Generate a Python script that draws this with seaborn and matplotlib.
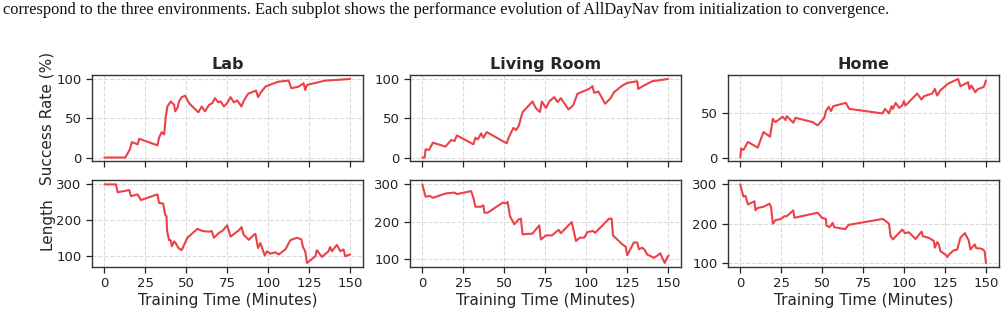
import numpy as np
import pandas as pd
import matplotlib
matplotlib.use("Agg")
import matplotlib.pyplot as plt
import seaborn as sns

# ---------------- data ----------------
lab_sr_t = [0, 12.8, 15.6, 16.8, 20.3, 21.3, 32.4, 33.4, 35, 36.5, 37.5, 38.5, 40.5, 42.6, 43.2, 44.6, 45.6, 47.2,
            49.3, 51.7, 54.7, 57.4, 59.4, 61.4, 63.9, 65.9, 67.5, 69.5, 71, 73, 75, 77, 79.1, 81.1, 83.7, 85.1,
            87.7, 91.2, 92.6, 93.8, 95.2, 98.3, 102.4, 106.4, 112.5, 114.1, 118.6, 121.6, 122.6, 123.7, 129.7,
            134.8, 140.9, 150]
lab_sr_v = [0, 0, 10.5, 19.7, 16.8, 23.9, 15.5, 25.2, 32.4, 29.4, 52.5, 65, 71.4, 67, 58.8, 63, 71.4, 76.9,
            78.6, 69.3, 63, 57.6, 65, 58.8, 67, 69.3, 75.6, 70.2, 71.4, 65, 69.3, 76.9, 70.2, 72.7, 65, 72.3,
            81.1, 84, 85.3, 76.9, 82, 90.3, 93.7, 96.6, 97.9, 88.2, 90.3, 94.5, 86, 92.4, 95.4,
            97.9, 98.7, 100]

lab_len_t = [0, 7.1, 8.1, 15.2, 16.2, 20.3, 22.3, 32.4, 33.4, 35.9, 37.1, 37.9, 38.3, 39.5, 40.5, 41.2, 42.6,
             43.6, 45.2, 47.2, 50.7, 56.8, 59.8, 63.9, 65.5, 66.9, 70, 72, 75, 77, 82.1, 83.7, 85.1, 88.2, 91.2,
             92.2, 93.8, 95.2, 96.7, 97.9, 99.3, 101.4, 104.4, 106.4, 110.5, 113.5, 117.6, 120.3, 121.2, 122.6,
             123.7, 128.8, 129.7, 132.8, 136.8, 137.8, 138.9, 141.9, 144, 146, 147, 150]
lab_len_v = [300, 300, 278, 284, 267, 272, 256, 272, 248, 246, 215, 211, 169, 143, 143, 126, 140,
             134, 121, 115, 150, 175, 169, 167, 169, 150, 164, 169, 185, 153, 171, 180, 158, 144, 158,
             161, 121, 135, 116, 100, 112, 105, 109, 103, 117, 143, 150, 145, 124, 112,
             79, 98, 115, 96, 112, 124, 112, 130, 112, 117, 98, 103]

liv_sr_t = [0, 1.4, 2, 4.1, 6.5, 14.2, 17.6, 19.7, 21.1, 31.2, 32.4, 33.9, 35.9, 37.3, 39.3, 51.5, 52.7, 55.6,
            57.2, 58.8, 61.2, 67.3, 69.3, 71.8, 73, 75.5, 77.5, 80.5, 82.6, 84.6, 89.2, 92.1, 94.7, 101.8,
            103.9, 104.9, 107.5, 111.6, 115, 117, 122.1, 125.1, 131.2, 131.8, 135.2, 140.3, 150]
liv_sr_v = [0, 0, 10.5, 9.7, 18.9, 13.9, 22.3, 21, 28.2, 16.8, 25.2, 23.1, 30.7, 25.2, 32.4, 18.1, 25.2, 37.8,
            34.9, 39.9, 57.6, 71.4, 63, 58, 71.4, 63, 71.4, 76.9, 70.6, 75.6, 61.3, 66.4, 81.1, 87.4,
            90.8, 82.4, 84, 68.5, 75.6, 83.2, 91.6, 95, 97.1, 87.4, 91.6, 97.1, 100]

liv_len_t = [0, 2, 4.5, 6.5, 14.6, 19.7, 21.1, 29.8, 31.2, 32.4, 35.9, 37.3, 37.9, 39.9, 49.1, 51.1, 52.1, 53.5,
             56.2, 58.8, 60.2, 61.2, 67.3, 71.4, 72.4, 75.5, 79.1, 83.2, 84.6, 91.2, 93.8, 96.2, 98.8, 100.8,
             104.3, 105.5, 114, 115.6, 116.4, 119, 122.1, 124.1, 125.1, 129.1, 131.2, 132.2, 134.2, 135.8,
             137.2, 141.3, 143.3, 145.3, 146.4, 148, 149.4, 150.4]
liv_len_v = [300, 267, 269, 264, 276, 278, 274, 282, 264, 240, 240, 244, 224, 224, 251, 249, 253, 215,
             193, 206, 208, 166, 168, 190, 152, 163, 163, 178, 169, 199, 148, 157, 157, 172,
             175, 170, 208, 208, 163, 152, 139, 133, 110, 144, 144, 126, 130, 124,
             112, 103, 108, 115, 103, 89, 103, 109]

home_sr_t = [0, 0.6, 2, 4.7, 10.7, 14.2, 18.2, 19.9, 21.5, 25.9, 27.6, 28.4, 32.4, 33.7, 44.2, 47.3, 51.3, 52.3,
             54, 55.4, 56.8, 64.5, 66.5, 86.8, 88.4, 90.8, 92.4, 93.2, 94.9, 96.9, 98.9, 99.9, 100.9, 108,
             110.7, 112.1, 117.2, 118.8, 120.2, 122.2, 126.9, 133, 134.4, 139.1, 139.9, 141.1, 143.5, 144.6,
             148.6, 149.2, 150]
home_sr_v = [0, 10, 8.5, 17.4, 11.1, 28.5, 23.3, 43.3, 39.6, 45.6, 41.9, 46.3, 38.9, 44.4, 39.6, 35.9, 44.4, 51.9,
             56.7, 51.9, 57.4, 61.1, 54.4, 49.3, 54.4, 49.3, 57.4, 54.4, 61.1, 55.6, 58.1, 63, 58.1, 71.5,
             64.8, 68.5, 71.5, 76.7, 69.3, 75.2, 82.6, 87.8, 79.6, 84.1, 76.7, 80.4, 73, 75.9,
             78.9, 81.5, 86.3]

home_len_t = [0, 1.2, 2, 3.2, 4.7, 8.7, 9.3, 10.7, 14.2, 17.8, 18.8, 19.9, 21.5, 24.9, 26.9, 28.4, 32.4, 33.1,
              47.3, 49.9, 52.3, 52.7, 54.4, 55.4, 56.4, 57.4, 64.1, 66.1, 86.8, 87.8, 90.8, 91.8, 93.2, 98.9,
              100.5, 103, 107, 110.7, 111.5, 115.1, 118.2, 118.8, 120.2, 121.2, 122.2, 125.3, 126.4, 127.3,
              130.3, 132.4, 134.4, 137.1, 139.5, 140.5, 142, 143.2, 144, 147.6, 149.2, 150]
home_len_v = [300, 280, 269, 271, 249, 257, 234, 240, 243, 251, 243, 200, 209, 212, 219, 219, 234, 215,
              228, 215, 212, 195, 191, 195, 202, 191, 186, 197, 212, 210, 200, 168, 160, 185,
              176, 178, 161, 180, 168, 164, 156, 139, 153, 147, 130, 121, 115, 121,
              132, 134, 164, 176, 157, 134, 142, 147, 138, 136, 130, 100]

envs = ["Lab", "Living Room", "Home"]
caption = ("correspond to the three environments. Each subplot shows the performance evolution of "
           "AllDayNav from initialization to convergence.")

series = {
    "Lab": ((lab_sr_t, lab_sr_v), (lab_len_t, lab_len_v)),
    "Living Room": ((liv_sr_t, liv_sr_v), (liv_len_t, liv_len_v)),
    "Home": ((home_sr_t, home_sr_v), (home_len_t, home_len_v)),
}

# ---------------- style ----------------
sns.set_theme(style="ticks")
plt.rcParams["font.family"] = ["DejaVu Sans"]
LINE = "#EC4148"

fig, axes = plt.subplots(2, 3, figsize=(10.07, 3.14), dpi=100, sharex=True)
fig.subplots_adjust(left=0.0914, right=0.992, top=0.761, bottom=0.150, wspace=0.173, hspace=0.22)

for j, env in enumerate(envs):
    (st, sv), (lt, lv) = series[env]
    for i, (t, v) in enumerate([(st, sv), (lt, lv)]):
        ax = axes[i, j]
        df = pd.DataFrame({"t": t, "v": v})
        sns.lineplot(data=df, x="t", y="v", ax=ax, color=LINE, linewidth=1.5, estimator=None, sort=False)
        ax.grid(True, linestyle="--", color="#cccccc", linewidth=0.8, alpha=0.7)
        ax.set_xticks([0, 25, 50, 75, 100, 125, 150])
        ax.set_xlabel("")
        ax.set_ylabel("")
        ax.tick_params(axis="both", labelsize=9.5, length=4, width=0.9, color="#222222", labelcolor="#222222")
        for s in ax.spines.values():
            s.set_color("#333333")
            s.set_linewidth(1.0)
        if i == 0:
            ax.set_yticks([0, 50, 100]) if env != "Home" else ax.set_yticks([0, 50])
            ax.set_title(env, fontsize=11.5, fontweight="bold", pad=4)
        else:
            ax.set_yticks([100, 200, 300])
            ax.set_xlabel("Training Time (Minutes)", fontsize=11, labelpad=2)

axes[0, 0].set_ylabel("Success Rate (%)", fontsize=11, labelpad=1)
axes[1, 0].set_ylabel("Length", fontsize=11, labelpad=1)

fig.text(0.003, 1 - 13.5 / 314, caption, family="Liberation Serif", fontsize=11.8,
         ha="left", va="baseline", color="#111111")

fig.savefig("out.png", dpi=100)
